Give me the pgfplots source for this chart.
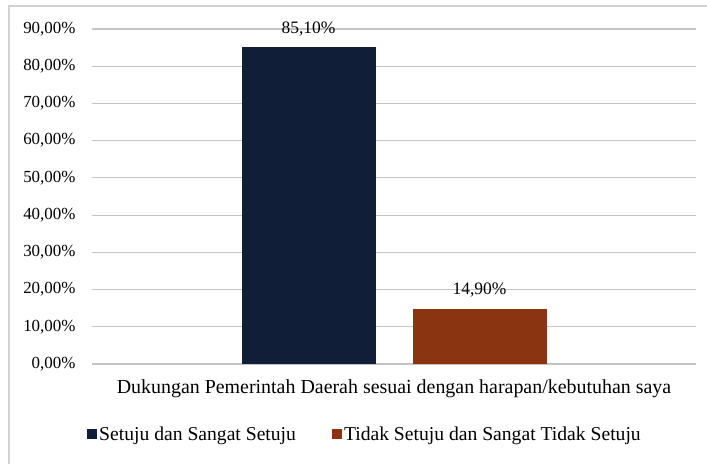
\documentclass[border=0pt]{standalone}
\usepackage{fontspec}
\setmainfont{Liberation Serif}
\usepackage{pgfplots}
\pgfplotsset{compat=1.18}
\definecolor{navybar}{RGB}{16,30,56}
\definecolor{brownbar}{RGB}{139,52,17}
\definecolor{gridgray}{RGB}{196,196,196}
\definecolor{framegray}{RGB}{210,210,210}

\begin{document}
\begin{tikzpicture}
\path[use as bounding box,fill=white] (0,0) rectangle (707bp,464bp);
\draw[framegray,line width=1.2bp] (9bp,0) -- (9bp,458bp) -- (707bp,458bp);
\begin{axis}[
  at={(92bp,100bp)}, anchor=south west,
  scale only axis,
  width=604bp, height=335bp,
  ybar=37bp, bar width=134bp,
  xmin=-1, xmax=1,
  ymin=0, ymax=90,
  ytick={0,10,...,90},
  xtick=\empty,
  axis x line*=bottom,
  axis y line*=left,
  y axis line style={draw=none},
  x axis line style={draw=gridgray,line width=1.2bp},
  major tick length=0pt,
  ymajorgrids=true,
  grid style={gridgray,line width=1.2bp},
  /pgf/number format/assume math mode=true,
  yticklabel={\pgfmathprintnumber[fixed,fixed zerofill,precision=2,use comma]{\tick}\%},
  yticklabel style={font=\fontsize{17}{19}\selectfont,xshift=-13bp},
  xlabel={Dukungan Pemerintah Daerah sesuai dengan harapan/kebutuhan saya},
  xlabel style={at={(axis description cs:0.5,-0.075)},anchor=center,font=\fontsize{20}{22}\selectfont},
  nodes near coords={\pgfmathprintnumber[fixed,fixed zerofill,precision=2,use comma]{\pgfplotspointmeta}\%},
  nodes near coords style={font=\fontsize{17.5}{19}\selectfont,yshift=8bp},
  legend columns=2,
  legend style={at={(axis description cs:0.452,-0.209)},anchor=center,draw=none,fill=none,
    font=\fontsize{19.7}{21}\selectfont,
    /tikz/every even column/.append style={column sep=34bp}},
  legend image code/.code={\fill[#1] (0bp,-5bp) rectangle (10bp,5bp);},
]
\addplot[fill=navybar,draw=none] coordinates {(0,85.1)};
\addplot[fill=brownbar,draw=none] coordinates {(0,14.9)};
\legend{Setuju dan Sangat Setuju,Tidak Setuju dan Sangat Tidak Setuju}
\end{axis}
\end{tikzpicture}
\end{document}
